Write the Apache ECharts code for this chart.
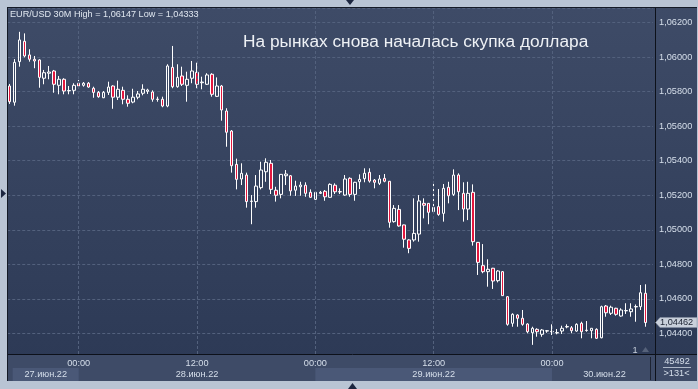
<!DOCTYPE html>
<html><head><meta charset="utf-8">
<script src="https://cdn.jsdelivr.net/npm/echarts@6/dist/echarts.min.js"></script>
<style>html,body{margin:0;padding:0;background:#b9c4d4;}#c{width:698px;height:389px;}</style>
</head><body><div id="c"></div>
<script>
// ---- data ----
const opens = [1.05833,1.05739,1.05974,1.06092,1.06013,1.05988,1.05984,1.05878,1.05907,1.05920,
1.05837,1.05872,1.05805,1.05808,1.05849,1.05837,1.05849,1.05820,1.05796,1.05765,
1.05796,1.05833,1.05768,1.05808,1.05756,1.05740,1.05768,1.05791,1.05802,1.05798,
1.05757,1.05756,1.05717,1.05941,1.05829,1.05891,1.05837,1.05878,1.05912,1.05852,
1.05843,1.05901,1.05773,1.05833,1.05688,1.05572,1.05379,1.05294,1.05317,1.05164,
1.05163,1.05244,1.05336,1.05385,1.05229,1.05205,1.05313,1.05313,1.05229,1.05249,
1.05258,1.05217,1.05176,1.05211,1.05223,1.05188,1.05258,1.05221,1.05201,1.05298,
1.05205,1.05278,1.05296,1.05333,1.05288,1.05269,1.05298,1.05281,1.05047,1.05118,
1.05028,1.04941,1.04941,1.04975,1.05153,1.05153,1.05105,1.05134,1.05095,1.05246,
1.05205,1.05317,1.05211,1.05120,1.05217,1.04927,1.04792,1.04757,1.04777,1.04705,
1.04757,1.04612,1.04458,1.04506,1.04487,1.04454,1.04403,1.04423,1.04394,1.04413,
1.04411,1.04402,1.04413,1.04437,1.04432,1.04413,1.04458,1.04418,1.04415,1.04423,
1.04374,1.04558,1.04516,1.04545,1.04500,1.04530,1.04525,1.04553,1.04554,1.04632];
const closes = [1.05742,1.05970,1.06100,1.06007,1.05988,1.05978,1.05883,1.05910,1.05914,1.05843,
1.05872,1.05804,1.05807,1.05837,1.05833,1.05849,1.05827,1.05796,1.05771,1.05796,
1.05827,1.05768,1.05814,1.05756,1.05733,1.05768,1.05787,1.05814,1.05810,1.05756,
1.05755,1.05717,1.05949,1.05829,1.05883,1.05843,1.05872,1.05920,1.05843,1.05856,
1.05897,1.05785,1.05833,1.05694,1.05565,1.05371,1.05292,1.05327,1.05163,1.05166,
1.05253,1.05346,1.05391,1.05234,1.05200,1.05321,1.05323,1.05225,1.05253,1.05259,
1.05211,1.05188,1.05217,1.05217,1.05191,1.05263,1.05220,1.05219,1.05294,1.05205,
1.05275,1.05292,1.05327,1.05282,1.05275,1.05294,1.05281,1.05043,1.05124,1.05022,
1.04945,1.04892,1.04979,1.05167,1.05142,1.05101,1.05130,1.05089,1.05240,1.05197,
1.05317,1.05220,1.05120,1.05211,1.04931,1.04811,1.04757,1.04771,1.04703,1.04761,
1.04618,1.04452,1.04510,1.04487,1.04452,1.04409,1.04429,1.04409,1.04419,1.04415,
1.04409,1.04404,1.04429,1.04439,1.04415,1.04452,1.04409,1.04416,1.04429,1.04371,
1.04554,1.04519,1.04551,1.04510,1.04535,1.04532,1.04541,1.04555,1.04635,1.04462];
const lows = [1.05729,1.05719,1.05945,1.05999,1.05974,1.05936,1.05823,1.05843,1.05872,1.05794,
1.05785,1.05785,1.05785,1.05785,1.05829,1.05829,1.05823,1.05765,1.05765,1.05763,
1.05781,1.05701,1.05752,1.05727,1.05713,1.05733,1.05756,1.05779,1.05787,1.05742,
1.05742,1.05710,1.05710,1.05820,1.05823,1.05833,1.05742,1.05849,1.05820,1.05814,
1.05839,1.05771,1.05769,1.05632,1.05481,1.05331,1.05234,1.05259,1.05128,1.05032,
1.05128,1.05234,1.05278,1.05207,1.05163,1.05182,1.05259,1.05197,1.05196,1.05197,
1.05191,1.05186,1.05172,1.05207,1.05168,1.05186,1.05207,1.05207,1.05197,1.05191,
1.05168,1.05236,1.05275,1.05273,1.05240,1.05259,1.05275,1.05012,1.05041,1.05018,
1.04896,1.04864,1.04931,1.04931,1.05066,1.05032,1.05103,1.05081,1.05047,1.05153,
1.05196,1.05114,1.05047,1.05056,1.04908,1.04738,1.04748,1.04670,1.04657,1.04695,
1.04616,1.04444,1.04438,1.04438,1.04444,1.04400,1.04333,1.04380,1.04380,1.04403,
1.04390,1.04394,1.04396,1.04429,1.04400,1.04409,1.04371,1.04409,1.04371,1.04367,
1.04371,1.04496,1.04506,1.04502,1.04496,1.04512,1.04496,1.04467,1.04535,1.04438];
const highs = [1.05845,1.05989,1.06147,1.06138,1.06046,1.06007,1.05988,1.05926,1.05949,1.05926,
1.05891,1.05878,1.05833,1.05849,1.05868,1.05856,1.05856,1.05829,1.05804,1.05804,
1.05858,1.05837,1.05864,1.05829,1.05779,1.05817,1.05804,1.05843,1.05817,1.05808,
1.05771,1.05771,1.05959,1.06065,1.05959,1.05945,1.05916,1.05978,1.05968,1.05887,
1.05907,1.05907,1.05883,1.05839,1.05704,1.05578,1.05412,1.05385,1.05331,1.05201,
1.05317,1.05394,1.05414,1.05404,1.05249,1.05323,1.05346,1.05317,1.05284,1.05278,
1.05275,1.05234,1.05220,1.05225,1.05230,1.05269,1.05269,1.05240,1.05317,1.05304,
1.05278,1.05321,1.05356,1.05356,1.05294,1.05317,1.05323,1.05282,1.05143,1.05143,
1.05030,1.04945,1.05182,1.05201,1.05182,1.05155,1.05282,1.05236,1.05265,1.05278,
1.05350,1.05327,1.05275,1.05278,1.05263,1.04929,1.04917,1.04829,1.04779,1.04766,
1.04761,1.04616,1.04516,1.04510,1.04535,1.04458,1.04438,1.04429,1.04425,1.04419,
1.04452,1.04425,1.04444,1.04452,1.04442,1.04458,1.04467,1.04471,1.04430,1.04429,
1.04560,1.04564,1.04560,1.04548,1.04545,1.04574,1.04574,1.04567,1.04680,1.04684];
const dayLabels = ['27.июн.22','28.июн.22','29.июн.22','30.июн.22'];
const headerText = 'EUR/USD 30M High = 1,06147 Low = 1,04333';
const titleText = 'На рынках снова началась скупка доллара';
const lastPrice = 1.04462;
const barCountText = '45492';
const visibleText = '>131<';

// category timestamps: 30-minute bars starting 27.06 17:00 (one spare slot at the end)
const categories = [];
for (let i = 0; i < opens.length + 1; i++) {
  const m = 17 * 60 + i * 30;
  const day = 27 + Math.floor(m / 1440);
  const mm = m % 1440;
  categories.push(day + '.06 ' + String(Math.floor(mm / 60)).padStart(2, '0') + ':' + String(mm % 60).padStart(2, '0'));
}
const candles = opens.map((o, i) => [o, closes[i], lows[i], highs[i]]);
const isMajor = c => c.endsWith('00:00') || c.endsWith('12:00');

const FONT = '"Liberation Sans", Arial, sans-serif';
const chart = echarts.init(document.getElementById('c'));
const BW = 4.93;
chart.setOption({
  animation: false,
  backgroundColor: '#b9c4d4',
  grid: { left: 7.23, top: 8, width: BW * categories.length, height: 346, outerBoundsMode: 'none', containLabel: false },
  xAxis: {
    type: 'category', data: categories, boundaryGap: true,
    axisLine: { show: false }, axisTick: { show: false }, splitLine: { show: false },
    axisLabel: {
      interval: (i, v) => isMajor(v), formatter: v => v.slice(-5),
      color: '#d6dfeb', fontSize: 9.2, fontFamily: FONT, margin: 5
    }
  },
  yAxis: {
    type: 'value', position: 'right', min: 1.0428, max: 1.06285, splitNumber: 10, scale: true,
    axisLine: { show: false }, axisTick: { show: false },
    axisLabel: {
      showMinLabel: false, showMaxLabel: false, color: '#d6dfeb', fontSize: 9.2, fontFamily: FONT, margin: 6,
      formatter: v => v.toFixed(5).replace('.', ',')
    },
    splitLine: { lineStyle: { color: '#53617d', type: [3, 2], width: 1 } }
  },
  series: [{
    type: 'candlestick', data: candles, barWidth: 3,
    itemStyle: { color: 'rgba(0,0,0,0)', color0: '#e3173e', borderColor: '#ffffff', borderColor0: '#ffffff', borderWidth: 1 },
    markLine: {
      silent: true, symbol: 'none', label: { show: false },
      lineStyle: { color: '#53617d', type: [3, 2], width: 1 },
      data: categories.filter(isMajor).map(c => ({ xAxis: c }))
    }
  }]
});

const xp = i => chart.convertToPixel({ xAxisIndex: 0 }, i);
const yp = v => chart.convertToPixel({ yAxisIndex: 0 }, v);
const midnights = categories.map((c, i) => c.endsWith('00:00') ? i : -1).filter(i => i >= 0);
const edges = [xp(0) + 3].concat(midnights.map(xp)).concat([657]);
const g = [];
// panels
g.push({ type: 'rect', z: -10, shape: { x: 8, y: 8, width: 689, height: 373 },
  style: { fill: new echarts.graphic.LinearGradient(0, 0, 0, 1, [{ offset: 0, color: '#3e4b67' }, { offset: 1, color: '#2c3955' }]) } });
g.push({ type: 'rect', z: -9, shape: { x: 8, y: 355, width: 689, height: 26 }, style: { fill: '#3e4b67' } });
for (let d = 0; d < dayLabels.length; d++) {
  const x0 = edges[d], x1 = edges[d + 1];
  if (d % 2 === 0) g.push({ type: 'rect', z: -8, shape: { x: x0, y: 368, width: Math.min(x1, 650) - x0, height: 13 }, style: { fill: '#4a5877' } });
  g.push({ type: 'text', z: 50, style: { text: dayLabels[d], x: (x0 + x1) / 2, y: 374.5, fill: '#d6dfeb', font: '9.2px ' + FONT, align: 'center', verticalAlign: 'middle' } });
}
// frame lines
const L = (x1, y1, x2, y2, c, w) => ({ type: 'line', z: 60, shape: { x1, y1, x2, y2 }, style: { stroke: c, lineWidth: w || 1 } });
g.push(L(7.5, 7, 7.5, 381, '#141a26'));
g.push(L(7, 7.5, 697, 7.5, '#141a26'));
g.push(L(8, 354.5, 697, 354.5, '#0d111a'));
g.push(L(655.5, 8, 655.5, 381, '#0d111a'));
g.push(L(650.5, 357, 650.5, 380, '#1d2433'));
g.push(L(663, 367.5, 691, 367.5, '#aeb8c8'));
// triangles
g.push({ type: 'polygon', z: 60, shape: { points: [[346, 0], [354, 0], [350, 5]] }, style: { fill: '#1c2640' } });
g.push({ type: 'polygon', z: 60, shape: { points: [[348, 389], [357, 389], [352.5, 383]] }, style: { fill: '#1c2640' } });
g.push({ type: 'polygon', z: 60, shape: { points: [[1, 189], [1, 198], [6, 193.5]] }, style: { fill: '#1c2640' } });
g.push({ type: 'polygon', z: 60, shape: { points: [[642, 352], [649, 352], [645.5, 347]] }, style: { fill: '#56627a' } });
// texts
g.push({ type: 'text', z: 60, style: { text: headerText, x: 10, y: 14.5, fill: '#dfe6ef', font: '9.15px ' + FONT, verticalAlign: 'middle' } });
g.push({ type: 'text', z: 60, style: { text: titleText, x: 243, y: 42, fill: '#eef1f5', font: '17.3px ' + FONT, verticalAlign: 'middle' } });
g.push({ type: 'text', z: 60, style: { text: '1', x: 635, y: 350, fill: '#c8d0dc', font: '9.2px ' + FONT, align: 'center', verticalAlign: 'middle' } });
g.push({ type: 'text', z: 60, style: { text: barCountText, x: 677, y: 361, fill: '#d6dfeb', font: '9.2px ' + FONT, align: 'center', verticalAlign: 'middle' } });
g.push({ type: 'text', z: 60, style: { text: visibleText, x: 676.5, y: 373.5, fill: '#d6dfeb', font: '9.2px ' + FONT, align: 'center', verticalAlign: 'middle' } });
// last price tag
const ty = yp(lastPrice);
g.push({ type: 'polygon', z: 70, shape: { points: [[655.5, ty], [660, ty - 5], [697, ty - 5], [697, ty + 5], [660, ty + 5]] }, style: { fill: '#c9d0db', stroke: '#8a94a6', lineWidth: 0.5 } });
g.push({ type: 'text', z: 71, style: { text: lastPrice.toFixed(5).replace('.', ','), x: 660, y: ty, fill: '#1b2231', font: '9.2px ' + FONT, verticalAlign: 'middle' } });
chart.setOption({ graphic: { elements: g } });
</script>
</body></html>
